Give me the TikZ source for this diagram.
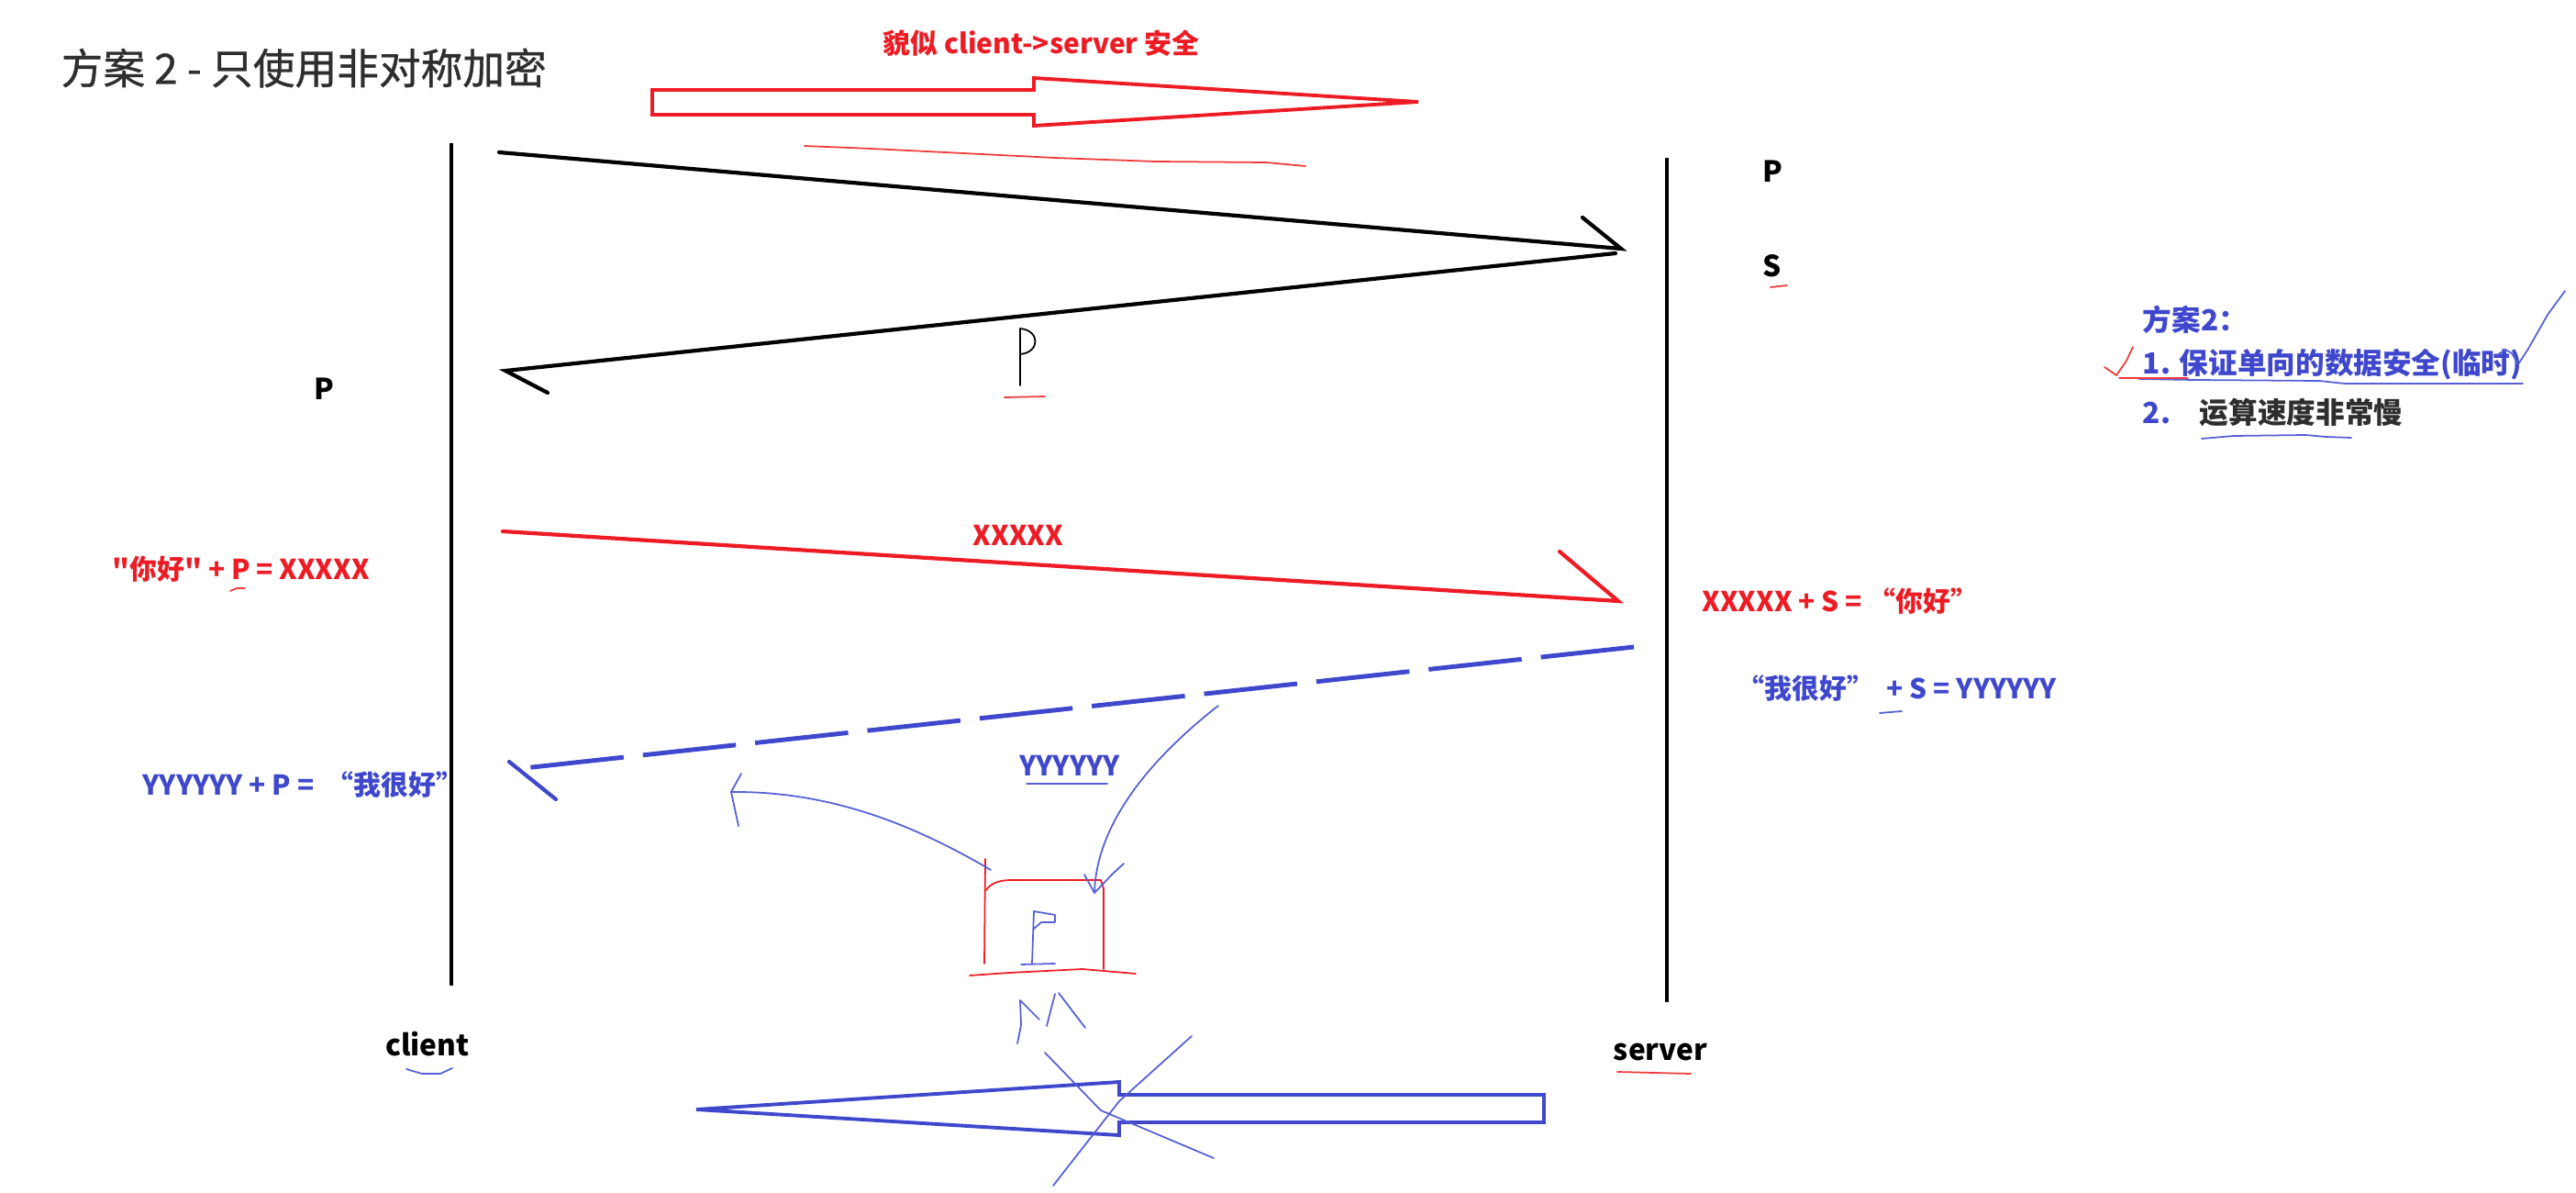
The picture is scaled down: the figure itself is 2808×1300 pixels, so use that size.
\documentclass[tikz,border=0pt]{standalone}
\usepackage{fontspec}
\setmainfont{Noto Sans CJK SC}[Ligatures=TeXOff]
\usepackage{xcolor}
\usepackage{tikz}
\usetikzlibrary{calc}
\definecolor{inkred}{HTML}{ED1C24}
\definecolor{inkblue}{HTML}{3F48CC}
\definecolor{penblue}{HTML}{5560D6}
\definecolor{penred}{HTML}{F03A3A}
\definecolor{titlegray}{HTML}{2E2E2E}
\tikzset{
  lifeline/.style={line width=0.9pt, black},
  msgline/.style={line width=1.2pt, line cap=round},
  msgdash/.style={line width=1.4pt, dash pattern=on 29pt off 6pt},
  fatarrow/.style={line width=1.1pt, line join=miter},
  pen/.style={line width=0.5pt, line cap=round, line join=round},
  titletext/.style={
    font=\fontsize{13}{15}\selectfont\addfontfeatures{FakeBold=0.8},
    text=titlegray, inner sep=0pt
  },
  formula/.style={
    font=\fontsize{8.5}{10}\selectfont\bfseries, inner sep=0pt
  },
  keylabel/.style={
    font=\fontsize{9}{10}\selectfont\bfseries, inner sep=0pt
  },
  planlabel/.style={
    font=\fontsize{9}{11}\selectfont\bfseries, text=inkblue,
    inner sep=0pt, anchor=west
  },
}

\begin{document}
\begin{tikzpicture}[x=0.01cm, y=-0.01cm]
  \useasboundingbox (0,0) rectangle (2808,1300);

  % ── title ──
  \node[titletext, anchor=west] (title) at (66,74) {方案 2 - 只使用非对称加密};
  \node[formula, text=inkred] (claim) at (1135,47) {貌似 client->server 安全};
  \draw[fatarrow, inkred] (711,98) -- (1127,98) -- (1127,85) -- (1546,111)
    -- (1127,137) -- (1127,125) -- (711,125) -- cycle;
  \draw[pen, penred] (877,159) -- (950,162) -- (1050,167) -- (1150,172)
    -- (1260,176) -- (1380,177) -- (1423,181);

  % ── lifelines ──
  \coordinate (clientTop) at (492,156);
  \coordinate (clientBot) at (492,1074);
  \coordinate (serverTop) at (1817,172);
  \coordinate (serverBot) at (1817,1092);
  \draw[lifeline] (clientTop) -- (clientBot);
  \draw[lifeline] (serverTop) -- (serverBot);
  \node[keylabel] (client) at (466,1138) {client};
  \node[keylabel] (server) at (1810,1146) {server};
  \draw[pen, penblue] (443,1165) -- (460,1170) -- (480,1170) -- (493,1164);
  \draw[pen, penred] (1763,1168) -- (1843,1170);

  % ── key pair on server ──
  \node[keylabel] (pubS) at (1932,187) {P};
  \node[keylabel] (secS) at (1932,290) {S};
  \draw[pen, penred] (1930,313) -- (1948,311);
  \node[keylabel] (pubC) at (353,424) {P};

  % ── public key sent to client ──
  \coordinate (reqA) at (544,166);
  \coordinate (reqB) at (1767,271);
  \coordinate (keyA) at (1761,276);
  \coordinate (keyB) at (551,404);
  \draw[msgline] (reqA) -- (reqB) -- ++(-42,-34);
  \draw[msgline] (keyA) -- (keyB) -- ++(46,24);
  \draw[pen] (1112,420) -- (1112,358) .. controls (1134,360) and (1134,384)
    .. (1112,386);
  \draw[pen, penred] (1095,433) -- (1139,432);

  % ── client -> server ──
  \coordinate (encA) at (548,579);
  \coordinate (encB) at (1764,655);
  \draw[msgline, inkred] (encA) -- (encB) -- ++(-64,-54);
  \node[formula, text=inkred] (xmsg) at (1110,583) {XXXXX};
  \node[formula, text=inkred, anchor=west] (encL) at (122,620)
    {"你好" + P = XXXXX};
  \draw[pen, penred] (251,644) -- (258,641) -- (267,641);
  \node[formula, text=inkred, anchor=west] (decR) at (1855,655)
    {XXXXX + S =\ “你好”};

  % ── server -> client ──
  \coordinate (repA) at (1781,705);
  \coordinate (repB) at (562,838);
  \draw[msgdash, inkblue] (repA) -- (repB);
  \draw[msgline, inkblue] (repB) ++(-7,-8) -- ++(51,41);
  \node[formula, text=inkblue, anchor=west] (encR) at (1893,750)
    {“我很好”\ \ + S = YYYYYY};
  \draw[pen, penblue] (2049,777) -- (2073,775);
  \node[formula, text=inkblue, anchor=west] (decL) at (155,855)
    {YYYYYY + P =\ \ “我很好”};
  \node[formula, text=inkblue] (ymsg) at (1166,834) {YYYYYY};
  \draw[pen, penblue] (1119,854) -- (1207,854);

  % ── sketch: P in a box ──
  \draw[pen, inkred] (1074,936) -- (1073,1050);
  \draw[pen, inkred] (1075,970) .. controls (1080,962) and (1090,959)
    .. (1103,959) -- (1200,959) -- (1203,968) -- (1203,1056);
  \draw[pen, inkred] (1057,1063) -- (1100,1060) -- (1180,1056) -- (1238,1061);
  \draw[pen, penblue] (1113,1051) -- (1150,1050);
  \draw[pen, penblue] (1125,1050) -- (1127,993) -- (1150,997) -- (1150,1005)
    -- (1135,1005) -- (1126,1013);
  \draw[pen, penblue] (1080,948) .. controls (990,895) and (900,862)
    .. (797,863);
  \draw[pen, penblue] (808,843) -- (797,863) -- (805,900);
  \draw[pen, penblue] (1328,769) .. controls (1250,830) and (1195,900)
    .. (1193,973);
  \draw[pen, penblue] (1182,953) -- (1193,973) -- (1213,952) -- (1225,941);
  \draw[pen, penblue] (1109,1137) -- (1113,1117) -- (1112,1090) -- (1133,1111);
  \draw[pen, penblue] (1141,1118) -- (1150,1083);
  \draw[pen, penblue] (1154,1082) -- (1183,1120);

  % ── crossed-out arrow ──
  \draw[fatarrow, inkblue] (1683,1193) -- (1220,1193) -- (1220,1179)
    -- (759,1209) -- (1220,1237) -- (1220,1223) -- (1683,1223) -- cycle;
  \draw[pen, penblue] (1139,1147) -- (1200,1210) -- (1323,1262);
  \draw[pen, penblue] (1299,1129) -- (1220,1200) -- (1148,1292);

  % ── summary ──
  \node[planlabel] (plan) at (2335,348) {方案2：};
  \node[planlabel] (plan1) at (2335,397) {1. 保证单向的数据安全(临时)};
  \node[planlabel] (plan2) at (2335,450)
    {2.\quad{\color{titlegray}运算速度非常慢}};
  \draw[pen, penblue] (2332,413) -- (2392,414) -- (2528,415) -- (2556,418)
    -- (2750,418);
  \draw[pen, penred] (2310,412) -- (2385,412);
  \draw[pen, penred] (2294,400) -- (2307,409) -- (2318,393) -- (2325,378);
  \draw[pen, penblue] (2722,387) -- (2731,381) -- (2738,385) -- (2745,397)
    -- (2756,380) -- (2777,343) -- (2796,317);
  \draw[pen, penblue] (2400,478) -- (2435,475) -- (2513,474) -- (2535,476)
    -- (2563,477);
\end{tikzpicture}
\end{document}
